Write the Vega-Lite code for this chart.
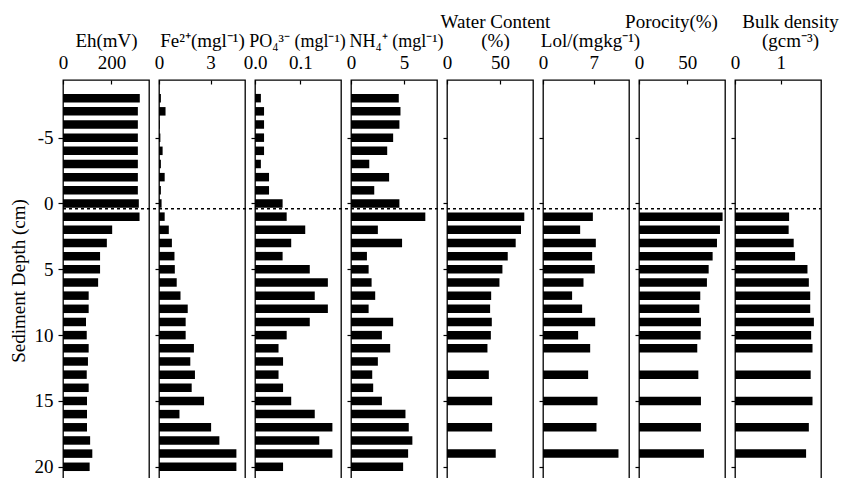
{
  "$schema": "https://vega.github.io/schema/vega-lite/v6.json",
  "autosize": {"type": "none"},
  "padding": {"left": 63, "top": 80, "right": 782, "bottom": 0},
  "datasets": {
    "core": [
      {"depth": -8, "Eh": 317, "Fe": 0.11, "PO4": 0.013, "NH4": 4.50, "WC": null, "LOI": null, "Por": null, "BD": null},
      {"depth": -7, "Eh": 309, "Fe": 0.38, "PO4": 0.020, "NH4": 4.66, "WC": null, "LOI": null, "Por": null, "BD": null},
      {"depth": -6, "Eh": 309, "Fe": 0.04, "PO4": 0.020, "NH4": 4.56, "WC": null, "LOI": null, "Por": null, "BD": null},
      {"depth": -5, "Eh": 309, "Fe": 0.08, "PO4": 0.020, "NH4": 3.97, "WC": null, "LOI": null, "Por": null, "BD": null},
      {"depth": -4, "Eh": 309, "Fe": 0.21, "PO4": 0.020, "NH4": 3.41, "WC": null, "LOI": null, "Por": null, "BD": null},
      {"depth": -3, "Eh": 309, "Fe": 0.11, "PO4": 0.013, "NH4": 1.72, "WC": null, "LOI": null, "Por": null, "BD": null},
      {"depth": -2, "Eh": 309, "Fe": 0.33, "PO4": 0.031, "NH4": 3.59, "WC": null, "LOI": null, "Por": null, "BD": null},
      {"depth": -1, "Eh": 309, "Fe": 0.11, "PO4": 0.031, "NH4": 2.19, "WC": null, "LOI": null, "Por": null, "BD": null},
      {"depth": 0, "Eh": 313, "Fe": 0.15, "PO4": 0.061, "NH4": 4.56, "WC": null, "LOI": null, "Por": null, "BD": null},
      {"depth": 1, "Eh": 316, "Fe": 0.33, "PO4": 0.070, "NH4": 7.00, "WC": 72.8, "LOI": 6.87, "Por": 86.5, "BD": 1.18},
      {"depth": 2, "Eh": 203, "Fe": 0.57, "PO4": 0.111, "NH4": 2.53, "WC": 69.7, "LOI": 5.12, "Por": 83.8, "BD": 1.17},
      {"depth": 3, "Eh": 181, "Fe": 0.75, "PO4": 0.080, "NH4": 4.81, "WC": 64.7, "LOI": 7.28, "Por": 80.7, "BD": 1.28},
      {"depth": 4, "Eh": 153, "Fe": 0.90, "PO4": 0.061, "NH4": 1.50, "WC": 57.2, "LOI": 6.77, "Por": 76.2, "BD": 1.31},
      {"depth": 5, "Eh": 153, "Fe": 0.92, "PO4": 0.121, "NH4": 1.66, "WC": 52.2, "LOI": 7.14, "Por": 72.1, "BD": 1.58},
      {"depth": 6, "Eh": 145, "Fe": 1.03, "PO4": 0.161, "NH4": 1.94, "WC": 49.4, "LOI": 5.58, "Por": 70.3, "BD": 1.61},
      {"depth": 7, "Eh": 106, "Fe": 1.25, "PO4": 0.132, "NH4": 2.28, "WC": 41.6, "LOI": 4.01, "Por": 63.4, "BD": 1.64},
      {"depth": 8, "Eh": 106, "Fe": 1.67, "PO4": 0.161, "NH4": 1.66, "WC": 40.6, "LOI": 5.39, "Por": 62.4, "BD": 1.64},
      {"depth": 9, "Eh": 95, "Fe": 1.55, "PO4": 0.121, "NH4": 3.97, "WC": 42.2, "LOI": 7.19, "Por": 64.1, "BD": 1.72},
      {"depth": 10, "Eh": 98, "Fe": 1.55, "PO4": 0.070, "NH4": 2.91, "WC": 41.3, "LOI": 4.84, "Por": 63.8, "BD": 1.66},
      {"depth": 11, "Eh": 106, "Fe": 2.03, "PO4": 0.052, "NH4": 3.69, "WC": 38.1, "LOI": 6.50, "Por": 60.3, "BD": 1.69},
      {"depth": 12, "Eh": 103, "Fe": 1.82, "PO4": 0.062, "NH4": 2.53, "WC": null, "LOI": null, "Por": null, "BD": null},
      {"depth": 13, "Eh": 98, "Fe": 2.09, "PO4": 0.052, "NH4": 2.00, "WC": 39.4, "LOI": 6.22, "Por": 61.4, "BD": 1.65},
      {"depth": 14, "Eh": 106, "Fe": 1.90, "PO4": 0.062, "NH4": 2.09, "WC": null, "LOI": null, "Por": null, "BD": null},
      {"depth": 15, "Eh": 99, "Fe": 2.62, "PO4": 0.080, "NH4": 2.91, "WC": 42.5, "LOI": 7.51, "Por": 64.1, "BD": 1.69},
      {"depth": 16, "Eh": 99, "Fe": 1.19, "PO4": 0.132, "NH4": 5.13, "WC": null, "LOI": null, "Por": null, "BD": null},
      {"depth": 17, "Eh": 99, "Fe": 3.03, "PO4": 0.171, "NH4": 5.44, "WC": 42.5, "LOI": 7.37, "Por": 64.1, "BD": 1.61},
      {"depth": 18, "Eh": 112, "Fe": 3.51, "PO4": 0.142, "NH4": 5.78, "WC": null, "LOI": null, "Por": null, "BD": null},
      {"depth": 19, "Eh": 121, "Fe": 4.50, "PO4": 0.171, "NH4": 5.38, "WC": 45.9, "LOI": 10.4, "Por": 67.2, "BD": 1.55},
      {"depth": 20, "Eh": 110, "Fe": 4.50, "PO4": 0.062, "NH4": 4.91, "WC": null, "LOI": null, "Por": null, "BD": null}
    ],
    "iface": [{"depth": 0.4}]
  },
  "data": {"name": "core"},
  "spacing": 10,
  "bounds": "flush",
  "hconcat": [
    {
      "width": 86, "height": 401,
      "layer": [
        {"transform": [{"filter": "datum.Eh != null"}],
         "mark": {"type": "bar", "orient": "horizontal", "size": 8.5, "color": "#000"},
         "encoding": {
           "y": {"field": "depth", "type": "quantitative", "scale": {"domain": [-9, 20.7], "reverse": true, "nice": false, "zero": false},
                 "axis": {"values": [-5, 0, 5, 10, 15, 20], "labelExpr": "'' + datum.value", "title": "Sediment Depth (cm)", "tickSize": 5, "labelPadding": 5, "titlePadding": 6}},
           "x": {"field": "Eh", "type": "quantitative", "stack": null, "scale": {"domain": [0, 355], "nice": false},
                 "axis": {"orient": "top", "values": [0, 200], "title": "Eh(mV)", "titleY": -34}}
         }},
        {"data": {"name": "iface"},
         "mark": {"type": "rule", "strokeDash": [3, 3], "strokeWidth": 1.6, "color": "#000"},
         "encoding": {"y": {"field": "depth", "type": "quantitative"}, "x": {"datum": 0}, "x2": {"datum": 396}}}
      ]
    },
    {
      "width": 86, "height": 401,
      "layer": [
        {"transform": [{"filter": "datum.Fe != null"}],
         "mark": {"type": "bar", "orient": "horizontal", "size": 8.5, "color": "#000"},
         "encoding": {
           "y": {"field": "depth", "type": "quantitative", "scale": {"domain": [-9, 20.7], "reverse": true, "nice": false, "zero": false},
                 "axis": {"values": [-5, 0, 5, 10, 15, 20], "labels": false, "title": null, "tickSize": 4}},
           "x": {"field": "Fe", "type": "quantitative", "stack": null, "scale": {"domain": [0, 5], "nice": false},
                 "axis": {"orient": "top", "values": [0, 3], "title": "Fe²⁺(mgl⁻¹)", "titleY": -34}}
         }},
        {"data": {"name": "iface"},
         "mark": {"type": "rule", "strokeDash": [3, 3], "strokeWidth": 1.6, "color": "#000"},
         "encoding": {"y": {"field": "depth", "type": "quantitative"}, "x": {"datum": 0}, "x2": {"datum": 5.58}}}
      ]
    },
    {
      "width": 86, "height": 401,
      "layer": [
        {"transform": [{"filter": "datum.PO4 != null"}],
         "mark": {"type": "bar", "orient": "horizontal", "size": 8.5, "color": "#000"},
         "encoding": {
           "y": {"field": "depth", "type": "quantitative", "scale": {"domain": [-9, 20.7], "reverse": true, "nice": false, "zero": false},
                 "axis": {"values": [-5, 0, 5, 10, 15, 20], "labels": false, "title": null, "tickSize": 4}},
           "x": {"field": "PO4", "type": "quantitative", "stack": null, "scale": {"domain": [0, 0.19], "nice": false},
                 "axis": {"orient": "top", "values": [0, 0.1], "format": ".1f", "title": "PO₄³⁻ (mgl⁻¹)", "titleFontSize": 18, "titleX": 42, "titleY": -34}}
         }},
        {"data": {"name": "iface"},
         "mark": {"type": "rule", "strokeDash": [3, 3], "strokeWidth": 1.6, "color": "#000"},
         "encoding": {"y": {"field": "depth", "type": "quantitative"}, "x": {"datum": 0}, "x2": {"datum": 0.212}}}
      ]
    },
    {
      "width": 86, "height": 401,
      "layer": [
        {"transform": [{"filter": "datum.NH4 != null"}],
         "mark": {"type": "bar", "orient": "horizontal", "size": 8.5, "color": "#000"},
         "encoding": {
           "y": {"field": "depth", "type": "quantitative", "scale": {"domain": [-9, 20.7], "reverse": true, "nice": false, "zero": false},
                 "axis": {"values": [-5, 0, 5, 10, 15, 20], "labels": false, "title": null, "tickSize": 4}},
           "x": {"field": "NH4", "type": "quantitative", "stack": null, "scale": {"domain": [0, 8.1], "nice": false},
                 "axis": {"orient": "top", "values": [0, 5], "title": "NH₄⁺ (mgl⁻¹)", "titleFontSize": 18, "titleX": 45, "titleY": -34}}
         }},
        {"data": {"name": "iface"},
         "mark": {"type": "rule", "strokeDash": [3, 3], "strokeWidth": 1.6, "color": "#000"},
         "encoding": {"y": {"field": "depth", "type": "quantitative"}, "x": {"datum": 0}, "x2": {"datum": 9.04}}}
      ]
    },
    {
      "width": 86, "height": 401,
      "layer": [
        {"transform": [{"filter": "datum.WC != null"}],
         "mark": {"type": "bar", "orient": "horizontal", "size": 8.5, "color": "#000"},
         "encoding": {
           "y": {"field": "depth", "type": "quantitative", "scale": {"domain": [-9, 20.7], "reverse": true, "nice": false, "zero": false},
                 "axis": {"values": [-5, 0, 5, 10, 15, 20], "labels": false, "title": null, "tickSize": 4}},
           "x": {"field": "WC", "type": "quantitative", "stack": null, "scale": {"domain": [0, 81], "nice": false},
                 "axis": {"orient": "top", "values": [0, 50], "title": ["Water Content", "(%)"], "titleX": 48, "titleY": -53}}
         }},
        {"data": {"name": "iface"},
         "mark": {"type": "rule", "strokeDash": [3, 3], "strokeWidth": 1.6, "color": "#000"},
         "encoding": {"y": {"field": "depth", "type": "quantitative"}, "x": {"datum": 0}, "x2": {"datum": 90.4}}}
      ]
    },
    {
      "width": 86, "height": 401,
      "layer": [
        {"transform": [{"filter": "datum.LOI != null"}],
         "mark": {"type": "bar", "orient": "horizontal", "size": 8.5, "color": "#000"},
         "encoding": {
           "y": {"field": "depth", "type": "quantitative", "scale": {"domain": [-9, 20.7], "reverse": true, "nice": false, "zero": false},
                 "axis": {"values": [-5, 0, 5, 10, 15, 20], "labels": false, "title": null, "tickSize": 4}},
           "x": {"field": "LOI", "type": "quantitative", "stack": null, "scale": {"domain": [0, 11.85], "nice": false},
                 "axis": {"orient": "top", "values": [0, 7], "title": "Lol/(mgkg⁻¹)", "titleX": 47, "titleY": -34}}
         }},
        {"data": {"name": "iface"},
         "mark": {"type": "rule", "strokeDash": [3, 3], "strokeWidth": 1.6, "color": "#000"},
         "encoding": {"y": {"field": "depth", "type": "quantitative"}, "x": {"datum": 0}, "x2": {"datum": 13.23}}}
      ]
    },
    {
      "width": 86, "height": 401,
      "layer": [
        {"transform": [{"filter": "datum.Por != null"}],
         "mark": {"type": "bar", "orient": "horizontal", "size": 8.5, "color": "#000"},
         "encoding": {
           "y": {"field": "depth", "type": "quantitative", "scale": {"domain": [-9, 20.7], "reverse": true, "nice": false, "zero": false},
                 "axis": {"values": [-5, 0, 5, 10, 15, 20], "labels": false, "title": null, "tickSize": 4}},
           "x": {"field": "Por", "type": "quantitative", "stack": null, "scale": {"domain": [0, 89], "nice": false},
                 "axis": {"orient": "top", "values": [0, 50], "title": "Porocity(%)", "titleX": 32, "titleY": -53}}
         }},
        {"data": {"name": "iface"},
         "mark": {"type": "rule", "strokeDash": [3, 3], "strokeWidth": 1.6, "color": "#000"},
         "encoding": {"y": {"field": "depth", "type": "quantitative"}, "x": {"datum": 0}, "x2": {"datum": 99.3}}}
      ]
    },
    {
      "width": 86, "height": 401,
      "layer": [
        {"transform": [{"filter": "datum.BD != null"}],
         "mark": {"type": "bar", "orient": "horizontal", "size": 8.5, "color": "#000"},
         "encoding": {
           "y": {"field": "depth", "type": "quantitative", "scale": {"domain": [-9, 20.7], "reverse": true, "nice": false, "zero": false},
                 "axis": {"values": [-5, 0, 5, 10, 15, 20], "labels": false, "title": null, "tickSize": 4}},
           "x": {"field": "BD", "type": "quantitative", "stack": null, "scale": {"domain": [0, 1.875], "nice": false},
                 "axis": {"orient": "top", "values": [0, 1], "format": "d", "title": ["Bulk density", "(gcm⁻³)"], "titleX": 55, "titleY": -53}}
         }},
        {"data": {"name": "iface"},
         "mark": {"type": "rule", "strokeDash": [3, 3], "strokeWidth": 1.6, "color": "#000"},
         "encoding": {"y": {"field": "depth", "type": "quantitative"}, "x": {"datum": 0}, "x2": {"datum": 1.875}}}
      ]
    }
  ],
  "config": {
    "font": "Liberation Serif",
    "view": {"stroke": "#000", "strokeWidth": 1.3},
    "axis": {
      "grid": false, "domain": false, "tickColor": "#000", "tickWidth": 1.2,
      "labelColor": "#000", "titleColor": "#000",
      "labelFont": "Liberation Serif", "titleFont": "Liberation Serif",
      "labelFontSize": 19, "titleFontSize": 19, "titleFontWeight": "normal",
      "labelFlush": false, "labelOverlap": false, "titleLineHeight": 19
    },
    "axisX": {"tickSize": -4, "labelPadding": 16, "labelBaseline": "alphabetic", "titleBaseline": "alphabetic", "titleAnchor": "middle"},
    "axisY": {"titleFontSize": 19}
  }
}
